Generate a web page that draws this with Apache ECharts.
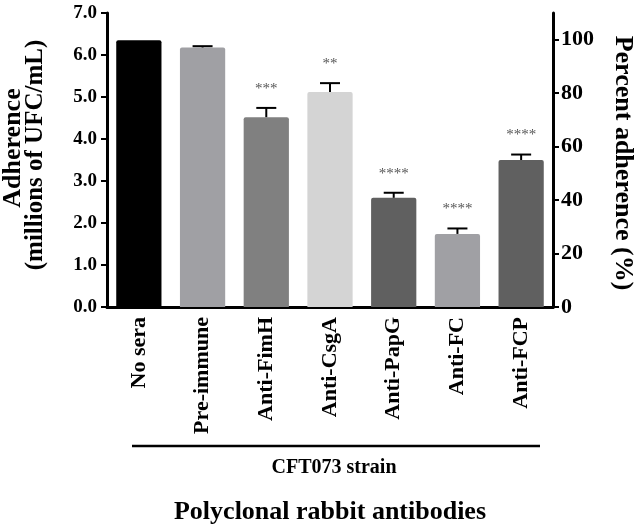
<!DOCTYPE html>
<html>
<head>
<meta charset="utf-8">
<script src="https://cdn.jsdelivr.net/npm/echarts@6/dist/echarts.min.js"></script>
<style>html,body{margin:0;padding:0;background:#fff;}#c{width:638px;height:529px;}</style>
</head>
<body>
<div id="c"></div>
<script>
var categories = ['No sera', 'Pre-immune', 'Anti-FimH', 'Anti-CsgA', 'Anti-PapG', 'Anti-FC', 'Anti-FCP'];
var values = [6.35, 6.18, 4.52, 5.12, 2.6, 1.74, 3.5];
var errors = [0, 0.03, 0.22, 0.21, 0.12, 0.13, 0.13];
var stars = ['', '', '***', '**', '****', '****', '****'];
var barColors = ['#000000', '#a0a0a4', '#808080', '#d4d4d4', '#606060', '#a0a0a4', '#606060'];
var rightTicks = [0, 20, 40, 60, 80, 100];

var FONT = '"Liberation Serif", "Times New Roman", serif';
var chart = echarts.init(document.getElementById('c'), null, {renderer: 'canvas'});

var option = {
  animation: false,
  backgroundColor: '#fff',
  grid: {left: 107, right: 85, top: 13, bottom: 222, containLabel: false},
  xAxis: {
    type: 'category',
    data: categories,
    axisLine: {lineStyle: {color: '#000', width: 3}},
    axisTick: {alignWithLabel: true, length: 6, lineStyle: {color: '#000', width: 2}},
    axisLabel: {rotate: 90, margin: 10, fontSize: 22, fontWeight: 'bold', fontFamily: FONT, color: '#000'}
  },
  yAxis: [{
    type: 'value', min: 0, max: 7, interval: 1,
    axisLine: {show: true, lineStyle: {color: '#000', width: 3}},
    axisTick: {show: true, length: 6, lineStyle: {color: '#000', width: 2}},
    axisLabel: {fontSize: 19, fontWeight: 'bold', fontFamily: FONT, color: '#000', margin: 10,
      formatter: function (v) { return v.toFixed(1); }},
    splitLine: {show: false}
  }, {
    type: 'value', min: 0, max: 110, position: 'right',
    axisLine: {show: true, lineStyle: {color: '#000', width: 3}},
    axisTick: {show: true, length: 6, customValues: rightTicks, lineStyle: {color: '#000', width: 2}},
    axisLabel: {fontSize: 22, fontWeight: 'bold', fontFamily: FONT, color: '#000', margin: 8, customValues: rightTicks},
    splitLine: {show: false}
  }],
  series: [{
    type: 'bar',
    barWidth: '71%',
    data: values.map(function (v, i) { return {value: v, itemStyle: {color: barColors[i], borderRadius: [2, 2, 0, 0]}}; }),
    z: 2
  }, {
    type: 'custom',
    z: 3,
    data: values.map(function (v, i) { return [i, v, errors[i]]; }),
    renderItem: function (params, api) {
      var i = api.value(0), v = api.value(1), e = api.value(2);
      var s = stars[params.dataIndex];
      var p0 = api.coord([i, v]);
      var p1 = api.coord([i, v + e]);
      var children = [];
      if (e > 0) {
        children.push({type: 'line', shape: {x1: p0[0], y1: p0[1], x2: p1[0], y2: p1[1]}, style: {stroke: '#000', lineWidth: 2}});
        children.push({type: 'line', shape: {x1: p1[0] - 10, y1: p1[1], x2: p1[0] + 10, y2: p1[1]}, style: {stroke: '#000', lineWidth: 2}});
      }
      if (s) {
        children.push({type: 'text', x: p1[0], y: p1[1] - 19, style: {text: s, fill: '#555', font: '15px ' + FONT, align: 'center', verticalAlign: 'middle'}});
      }
      return {type: 'group', children: children};
    }
  }],
  graphic: [
    {type: 'text', x: 13, y: 148, rotation: Math.PI / 2, style: {text: 'Adherence', font: 'bold 26px ' + FONT, fill: '#000', align: 'center', verticalAlign: 'middle'}},
    {type: 'text', x: 36, y: 155, rotation: Math.PI / 2, style: {text: '(millions of UFC/mL)', font: 'bold 25px ' + FONT, fill: '#000', align: 'center', verticalAlign: 'middle'}},
    {type: 'text', x: 623, y: 163, rotation: -Math.PI / 2, style: {text: 'Percent adherence (%)', font: 'bold 26px ' + FONT, fill: '#000', align: 'center', verticalAlign: 'middle'}},
    {type: 'line', shape: {x1: 132, y1: 446, x2: 540, y2: 446}, style: {stroke: '#000', lineWidth: 2.5}},
    {type: 'text', x: 334, y: 468, style: {text: 'CFT073 strain', font: 'bold 20px ' + FONT, fill: '#000', align: 'center', verticalAlign: 'middle'}},
    {type: 'text', x: 330, y: 512, style: {text: 'Polyclonal rabbit antibodies', font: 'bold 26px ' + FONT, fill: '#000', align: 'center', verticalAlign: 'middle'}}
  ]
};
chart.setOption(option);
</script>
</body>
</html>
